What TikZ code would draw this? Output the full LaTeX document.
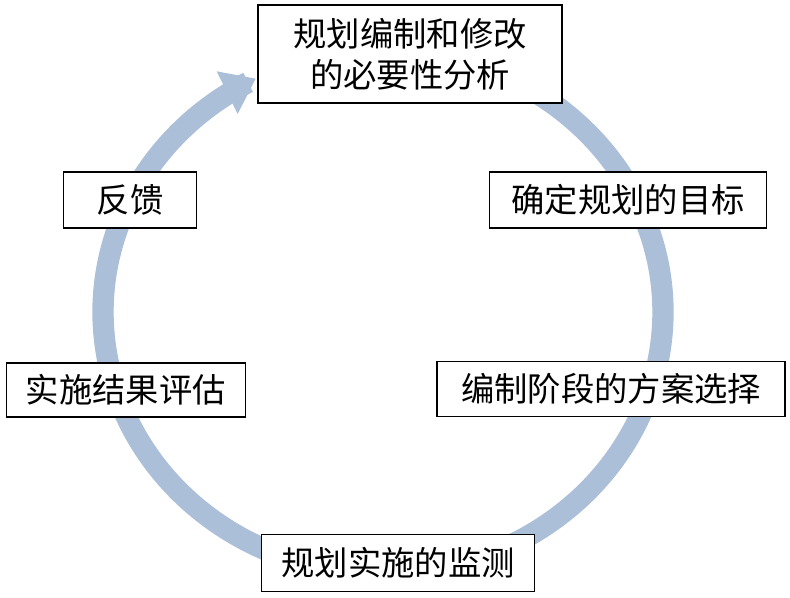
\documentclass[tikz,border=0pt]{standalone}
\usepackage{fontspec}
\setmainfont{Noto Sans CJK SC}
\usetikzlibrary{arrows.meta}
\definecolor{ring}{RGB}{172,191,217}
\begin{document}
\begin{tikzpicture}[x=0.75pt,y=-0.75pt,
  box/.style={draw=black,line width=1.2pt,fill=white,font=\fontsize{25}{31}\selectfont,align=center,inner sep=0pt}]
\useasboundingbox (0,0) rectangle (790,597);
\draw[ring,line width=16pt,{Triangle[length=24pt,width=34pt]}-] plot[domain=-243:70,samples=150,smooth] ({383+280*cos(\x)},{312-262*sin(\x)});
\node[box,minimum width=304*0.75pt,minimum height=98*0.75pt] (a) at (410,54) {规划编制和修改\\的必要性分析};
\node[box,minimum width=277*0.75pt,minimum height=56*0.75pt] (b) at (628,200) {确定规划的目标};
\node[box,minimum width=348*0.75pt,minimum height=55*0.75pt] (c) at (611,389) {编制阶段的方案选择};
\node[box,minimum width=273*0.75pt,minimum height=57*0.75pt] (d) at (398,563) {规划实施的监测};
\node[box,minimum width=239*0.75pt,minimum height=54*0.75pt] (e) at (126,390) {实施结果评估};
\node[box,minimum width=133*0.75pt,minimum height=56*0.75pt] (f) at (130,200) {反馈};
\end{tikzpicture}
\end{document}
